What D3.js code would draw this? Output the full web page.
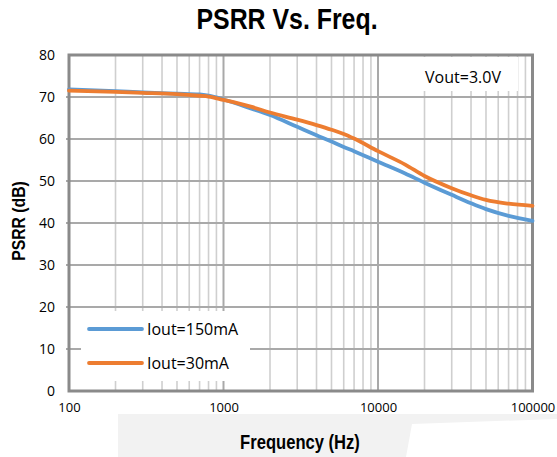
<!DOCTYPE html>
<html>
<head>
<meta charset="utf-8">
<script src="https://cdn.jsdelivr.net/npm/d3@7"></script>
<style>
  html, body { margin: 0; padding: 0; background: #fff; }
  svg { display: block; }
</style>
</head>
<body>
<svg id="chart" width="557" height="457"></svg>
<script>
const freqs = [100, 200, 300, 500, 700, 800, 1000, 1500, 2000, 3000, 4000, 5000, 6000, 7000, 10000, 15000, 20000, 30000, 40000, 50000, 70000, 100000];
const psrr150 = [71.8, 71.4, 71.1, 70.8, 70.6, 70.3, 69.4, 67.3, 65.7, 62.9, 60.9, 59.4, 58.1, 57.1, 54.6, 51.8, 49.6, 46.7, 44.7, 43.3, 41.7, 40.5];
const psrr30  = [71.5, 71.2, 71.0, 70.7, 70.3, 70.1, 69.3, 67.7, 66.3, 64.6, 63.3, 62.2, 61.2, 60.1, 57.1, 53.9, 51.2, 48.3, 46.6, 45.5, 44.6, 44.1];
const seriesNames = ["Iout=150mA", "Iout=30mA"];
const seriesColors = ["#5b9bd5", "#ed7d31"];
const xTickValues = [100, 1000, 10000, 100000];
const yTickValues = [0, 10, 20, 30, 40, 50, 60, 70, 80];
const titleText = "PSRR Vs. Freq.";
const xTitle = "Frequency (Hz)";
const yTitle = "PSRR (dB)";
const noteText = "Vout=3.0V";

const svg = d3.select("#chart");
const L = 69, R = 532.5, T = 55, B = 391;
const x = d3.scaleLog().domain([100, 100000]).range([L, R]);
const y = d3.scaleLinear().domain([0, 80]).range([B, T]);

// background grey band behind x title
svg.append("path")
  .attr("d", "M118,414 L557,414 L557,419 L412,424 L406,457 L118,457 Z")
  .attr("fill", "#f2f2f2");

// minor vertical gridlines
const minor = [];
for (let d = 100; d < 100000; d *= 10) for (let k = 2; k <= 9; k++) minor.push(d * k);
const grid = svg.append("g");
grid.selectAll("line.minor").data(minor).join("line")
  .attr("x1", d => x(d)).attr("x2", d => x(d))
  .attr("y1", T).attr("y2", B)
  .attr("stroke", "#cfcfcf").attr("stroke-width", 1.6);
grid.selectAll("line.major").data([1000, 10000]).join("line")
  .attr("x1", d => x(d)).attr("x2", d => x(d))
  .attr("y1", T).attr("y2", B)
  .attr("stroke", "#a9a9a9").attr("stroke-width", 2);
grid.selectAll("line.h").data(yTickValues.slice(1, -1)).join("line")
  .attr("x1", L - 3).attr("x2", R)
  .attr("y1", d => y(d)).attr("y2", d => y(d))
  .attr("stroke", "#a9a9a9").attr("stroke-width", 2);

// white boxes for legend and note
svg.append("rect").attr("x", 81).attr("y", 311).attr("width", 169).attr("height", 70).attr("fill", "#fff");
svg.append("rect").attr("x", 423).attr("y", 57).attr("width", 95).attr("height", 34).attr("fill", "#fff");

// border
svg.append("rect").attr("x", L).attr("y", T).attr("width", R - L).attr("height", B - T)
  .attr("fill", "none").attr("stroke", "#8a8a8a").attr("stroke-width", 3);

// axes labels via d3 axes
const xAxis = d3.axisBottom(x).tickValues(xTickValues).tickFormat(d3.format("d")).tickSize(0).tickPadding(12);
svg.append("g").attr("transform", `translate(0,${B})`).call(xAxis)
  .call(g => g.select(".domain").remove())
  .selectAll("text").attr("font-family", "'Open Sans', sans-serif").attr("font-size", 13).attr("fill", "#000");

const yAxis = d3.axisLeft(y).tickValues(yTickValues).tickFormat(d3.format("d")).tickSize(0).tickPadding(14);
svg.append("g").attr("transform", `translate(${L},0)`).call(yAxis)
  .call(g => g.select(".domain").remove())
  .selectAll("text").attr("font-family", "'Open Sans', sans-serif").attr("font-size", 14).attr("fill", "#000");

// lines
const line = d3.line().x(d => x(d[0])).y(d => y(d[1])).curve(d3.curveMonotoneX);
[psrr150, psrr30].forEach((vals, i) => {
  svg.append("path")
    .datum(freqs.map((f, j) => [f, vals[j]]))
    .attr("d", line)
    .attr("fill", "none")
    .attr("stroke", seriesColors[i])
    .attr("stroke-width", 3.8)
    .attr("stroke-linecap", "round")
    .attr("stroke-linejoin", "round");
});

// legend
const legendY = [329, 363];
seriesNames.forEach((n, i) => {
  svg.append("line").attr("x1", 89).attr("x2", 142).attr("y1", legendY[i]).attr("y2", legendY[i])
    .attr("stroke", seriesColors[i]).attr("stroke-width", 3.8).attr("stroke-linecap", "round");
  svg.append("text").attr("x", 147).attr("y", legendY[i] + 5.5)
    .attr("font-family", "'Open Sans', sans-serif").attr("font-size", 16).attr("fill", "#000").text(n);
});

// note
svg.append("text").attr("x", 463).attr("y", 83).attr("text-anchor", "middle")
  .attr("font-family", "'Open Sans', sans-serif").attr("font-size", 16).attr("fill", "#000").text(noteText);

// titles (condensed bold)
const bold = "'Liberation Sans', Arial, sans-serif";
svg.append("text").attr("transform", "translate(287,29) scale(0.83,1)").attr("text-anchor", "middle")
  .attr("font-family", bold).attr("font-weight", "bold").attr("font-size", 30).attr("fill", "#000").text(titleText);
svg.append("text").attr("transform", "translate(300,449) scale(0.83,1)").attr("text-anchor", "middle")
  .attr("font-family", bold).attr("font-weight", "bold").attr("font-size", 20).attr("fill", "#000").text(xTitle);
svg.append("text").attr("transform", "translate(25,221) rotate(-90) scale(0.83,1)").attr("text-anchor", "middle")
  .attr("font-family", bold).attr("font-weight", "bold").attr("font-size", 19).attr("fill", "#000").text(yTitle);
</script>
</body>
</html>
